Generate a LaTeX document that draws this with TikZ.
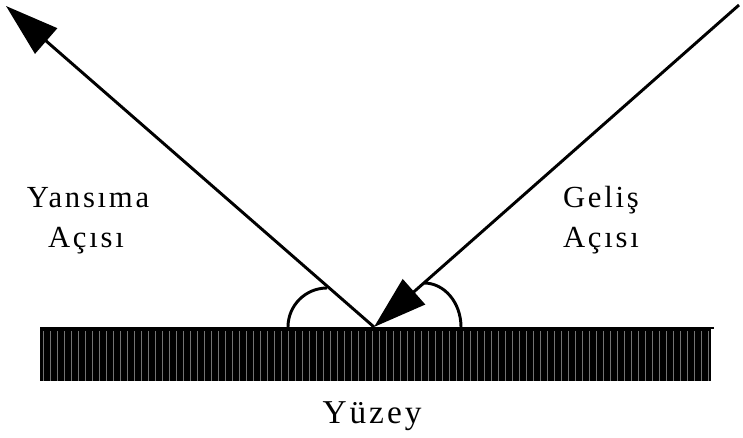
\documentclass[tikz,border=0pt]{standalone}
\usepackage{fontspec}
\setmainfont{Liberation Serif}[LetterSpace=9]
\usetikzlibrary{arrows.meta}
\tikzset{>={Triangle[length=40pt,width=25pt]},every node/.style={font=\fontsize{23}{27}\selectfont,inner sep=0pt},ray/.style={line width=2.2pt,->},anglearc/.style={line width=2.2pt},hatch/.style={line width=.6pt,black!55}}

\begin{document}
\begin{tikzpicture}[x=.75pt,y=-.75pt]
\useasboundingbox (0,0) rectangle (743,438);
\coordinate (p) at (374,327);\coordinate (src) at (739,5);\coordinate (dst) at (6,6);
\fill (40,328) rectangle (711,381);\draw[line width=2.2pt] (40,328)--(714,328);
\foreach \x in {43,50,...,708}{\draw[hatch] (\x,331)--(\x,381);}
\draw[ray] (src)--(p);\draw[ray] (p)--(dst);
\draw[anglearc] (288,327) arc[start angle=180,end angle=270,radius=39];
\draw[anglearc] (424,283) arc[start angle=270,end angle=360,x radius=37,y radius=44];
\node[anchor=base] (yansima) at (88,208){Yansıma};\node[anchor=base] (yansimaaci) at (86,248){Açısı};
\node[anchor=base] (gelis) at (601,208){Geliş};\node[anchor=base] (gelisaci) at (601,248){Açısı};
\node[anchor=base,font=\fontsize{25}{29}\selectfont] (yuzey) at (372,424){Yüzey};
\end{tikzpicture}
\end{document}
